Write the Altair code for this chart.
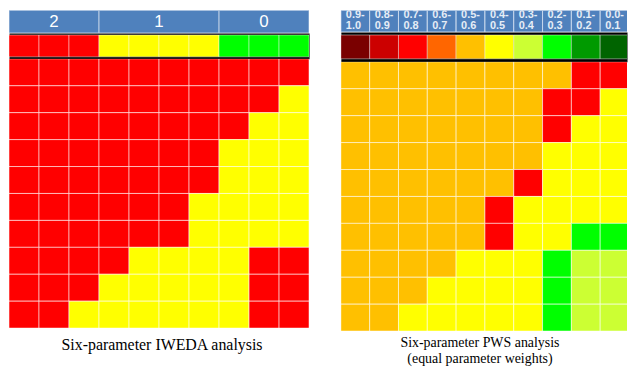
import altair as alt
import pandas as pd

# ---------------- data ----------------
# Left panel: IWEDA
left_groups = ["2", "1", "0"]
left_group_start = [0, 3, 7]
left_group_end = [3, 7, 10]
left_strip = ["R", "R", "R", "Y", "Y", "Y", "Y", "G", "G", "G"]
left_rows = [
    "RRRRRRRRRR",
    "RRRRRRRRRY",
    "RRRRRRRRYY",
    "RRRRRRRYYY",
    "RRRRRRRYYY",
    "RRRRRRYYYY",
    "RRRRRRYYYY",
    "RRRRYYYYRR",
    "RRRYYYYYRR",
    "RRYYYYYYRR",
]

# Right panel: PWS
right_bins = ["0.9-\n1.0", "0.8-\n0.9", "0.7-\n0.8", "0.6-\n0.7", "0.5-\n0.6",
              "0.4-\n0.5", "0.3-\n0.4", "0.2-\n0.3", "0.1-\n0.2", "0.0-\n0.1"]
right_strip = ["M", "C", "R", "A", "O", "Y", "L", "G", "E", "D"]
right_rows = [
    "OOOOOOOORR",
    "OOOOOOORRY",
    "OOOOOOORYY",
    "OOOOOOOYYY",
    "OOOOOORYYY",
    "OOOOORYYYY",
    "OOOOORYYGG",
    "OOOOYYYGLL",
    "OOOYYYYGLL",
    "OOYYYYYGLL",
]

left_caption = "Six-parameter IWEDA analysis"
right_caption = ["Six-parameter PWS analysis", "(equal parameter weights)"]

palette = {
    "R": "#FF0000", "Y": "#FFFF00", "G": "#00FF00", "O": "#FFC000",
    "L": "#CCFF33", "M": "#7A0000", "C": "#CC0000", "A": "#FF6600",
    "E": "#009A00", "D": "#006400",
}

HEADER_BLUE = "#4F81BD"
RCELL = 29
N = 10


def grid_df(rows):
    recs = []
    for r, row in enumerate(rows):
        for c, k in enumerate(row):
            recs.append(dict(x0=c, x1=c + 1, r0=r, r1=r + 1, color=palette[k]))
    return pd.DataFrame(recs)


def strip_df(codes):
    return pd.DataFrame(dict(x0=list(range(len(codes))),
                             x1=[i + 1 for i in range(len(codes))],
                             lane=["s"] * len(codes),
                             color=[palette[k] for k in codes]))


def xenc(field, dom):
    return alt.X(field, type="quantitative",
                 scale=alt.Scale(domain=dom, nice=False, zero=False), axis=None)


def grid_chart(df, dom, w, title):
    return alt.Chart(df, title=title).mark_rect(
        stroke="white", strokeOpacity=0.55, strokeWidth=1, clip=True
    ).encode(
        x=xenc("x0", dom), x2="x1",
        y=alt.Y("r0:Q", scale=alt.Scale(domain=[0, N], reverse=True, nice=False, zero=False), axis=None),
        y2="r1",
        color=alt.Color("color:N", scale=None),
    ).properties(width=w, height=271)


def strip_chart(df, dom, w, h, pad):
    return alt.Chart(df).mark_rect(
        stroke="white", strokeOpacity=0.45, strokeWidth=1, clip=True
    ).encode(
        x=xenc("x0", dom), x2="x1",
        y=alt.Y("lane:N", scale=alt.Scale(paddingOuter=pad, paddingInner=0), axis=None),
        color=alt.Color("color:N", scale=None),
    ).properties(width=w, height=h,
                 view=alt.ViewBackground(fill="black", stroke="transparent"))


# ---------------- left panel ----------------
LW = 302
ldom = [0, N]
hl = pd.DataFrame(dict(label=left_groups, x0=left_group_start, x1=left_group_end))
hl["xm"] = (hl["x0"] + hl["x1"]) / 2
left_header = alt.layer(
    alt.Chart(hl).mark_rect(color=HEADER_BLUE, stroke="#B8CCE4", strokeWidth=1, clip=True).encode(
        x=xenc("x0", ldom), x2="x1"),
    alt.Chart(hl).mark_text(color="white", fontSize=17, font="Liberation Sans",
                            baseline="middle").encode(
        x=xenc("xm", ldom), text="label:N"),
).properties(width=LW, height=23)

left_title = alt.TitleParams(text=left_caption, orient="bottom", anchor="middle",
                             frame="group",
                             font="Liberation Serif", fontSize=16, fontWeight="normal",
                             color="black", offset=9, dx=3)
left = alt.vconcat(
    left_header,
    strip_chart(strip_df(left_strip), ldom, LW, 26, 2 / 22),
    grid_chart(grid_df(left_rows), ldom, LW, left_title),
    spacing=0, bounds="flush",
)

# ---------------- right panel ----------------
RW = 288
rdom = [0, RW / RCELL]
hr = pd.DataFrame(dict(label=right_bins, x0=list(range(N)), x1=[i + 1 for i in range(N)]))
right_header = alt.layer(
    alt.Chart(hr).mark_rect(color=HEADER_BLUE, stroke="#C8D8EC", strokeWidth=1, clip=True).encode(
        x=xenc("x0", rdom), x2="x1"),
    alt.Chart(hr).mark_text(color="#E6EDF6", fontSize=11, fontWeight="bold",
                            font="Liberation Sans", align="left", baseline="middle",
                            dx=5, dy=-6, lineBreak="\n", lineHeight=11, clip=True).encode(
        x=xenc("x0", rdom), text="label:N"),
).properties(width=RW, height=22)

right_title = alt.TitleParams(text=right_caption, orient="bottom", anchor="middle",
                              frame="group",
                              font="Liberation Serif", fontSize=14, fontWeight="normal",
                              color="black", offset=5, dx=-4, lineHeight=16)
right = alt.vconcat(
    right_header,
    strip_chart(strip_df(right_strip), rdom, RW, 30, 3 / 24),
    grid_chart(grid_df(right_rows), rdom, RW, right_title),
    spacing=0, bounds="flush",
)

chart = alt.hconcat(left, right, spacing=30).properties(
    padding=0, background="white"
).configure_view(stroke="transparent")

chart.save("out.html", embed_options={"renderer": "svg", "actions": False})
